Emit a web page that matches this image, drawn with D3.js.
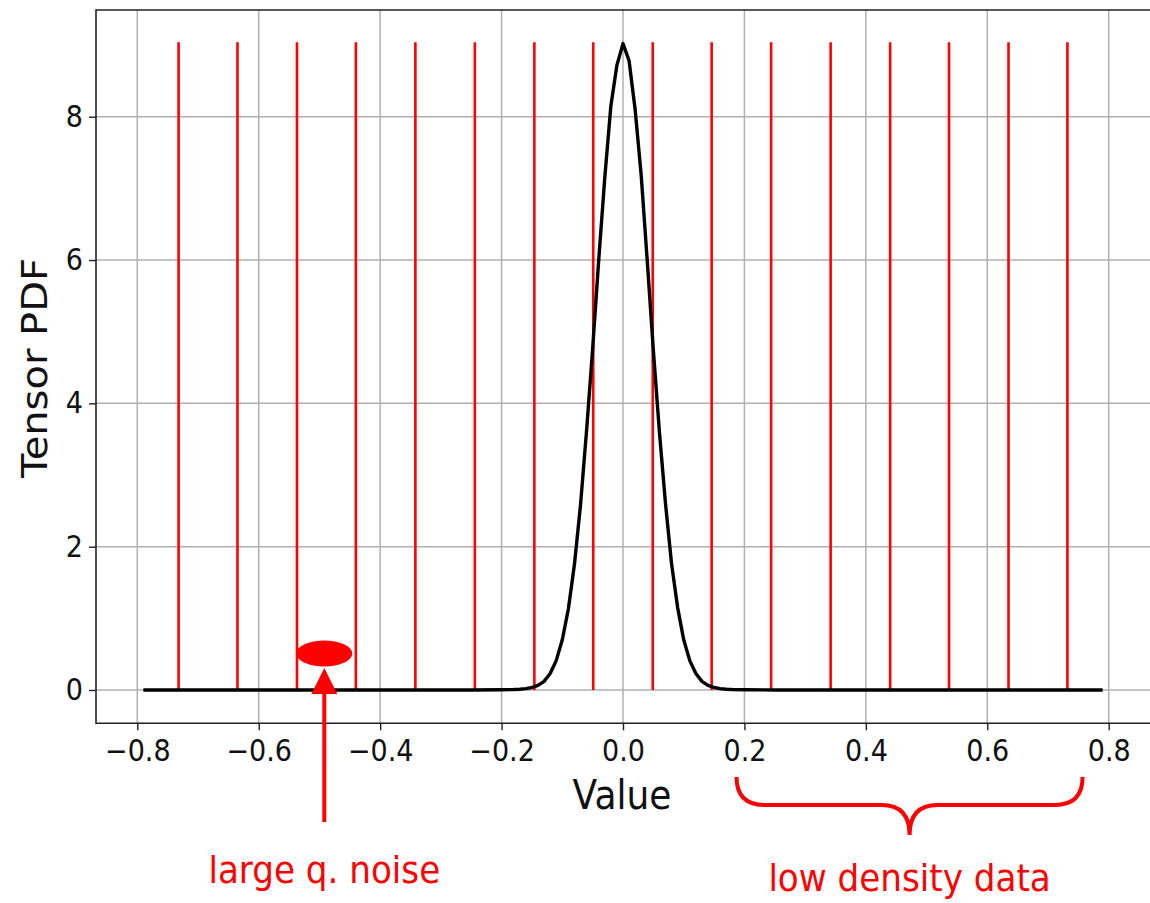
<!DOCTYPE html>
<html>
<head>
<meta charset="utf-8">
<script src="https://cdn.jsdelivr.net/npm/d3@7"></script>
<style>
  body { margin: 0; background: #fff; }
  svg { display: block; font-family: "DejaVu Sans", sans-serif; }
</style>
</head>
<body>
<script>
// ticks
var xTicks = [-0.8, -0.6, -0.4, -0.2, 0.0, 0.2, 0.4, 0.6, 0.8];
var xTickLabels = ["\u22120.8", "\u22120.6", "\u22120.4", "\u22120.2", "0.0", "0.2", "0.4", "0.6", "0.8"];
var yTicks = [0, 2, 4, 6, 8];
var yTickLabels = ["0", "2", "4", "6", "8"];

// quantization levels (red lines) and their height
var quantLevels = [-0.732, -0.635, -0.537, -0.440, -0.342, -0.244, -0.146, -0.049,
                    0.049, 0.146, 0.244, 0.342, 0.440, 0.537, 0.635, 0.732];
var levelTop = 9.04;

// tensor pdf
var pdfX = [-0.79, -0.40, -0.25, -0.20, -0.18, -0.17, -0.16, -0.15, -0.14, -0.13, -0.12, -0.11,
            -0.10, -0.09, -0.08, -0.07, -0.06, -0.05, -0.04, -0.03, -0.02, -0.01, 0.00,
             0.01, 0.02, 0.03, 0.04, 0.05, 0.06, 0.07, 0.08, 0.09, 0.10, 0.11, 0.12, 0.13,
             0.14, 0.15, 0.16, 0.17, 0.18, 0.20, 0.25, 0.40, 0.79];
var pdfY = [0, 0, 0.001, 0.003, 0.006, 0.01, 0.02, 0.035, 0.065, 0.12, 0.23, 0.41,
            0.70, 1.13, 1.75, 2.58, 3.62, 4.76, 6.00, 7.15, 8.15, 8.72, 9.02,
            8.78, 8.10, 7.18, 5.98, 4.74, 3.60, 2.60, 1.76, 1.15, 0.70, 0.41, 0.23, 0.12,
            0.065, 0.035, 0.02, 0.01, 0.006, 0.003, 0.001, 0, 0];

// annotations (data units)
var noiseAt = [-0.492, 0.51];
var braceFrom = 0.187, braceTo = 0.757;

var w = 1150, h = 903;
var frame = {left: 96, top: 10, right: 1152, bottom: 723.3};
var squeeze = 0.9;   // the figure is a bit narrow horizontally

var x = d3.scaleLinear().domain([-0.8, 0.8]).range([137.3, 1108.7]);
var y = d3.scaleLinear().domain([0, 8]).range([690, 116.7]);

var svg = d3.select("body").append("svg")
    .attr("width", w)
    .attr("height", h);

svg.append("rect").attr("width", w).attr("height", h).attr("fill", "#fff");

// grid
svg.append("g").selectAll("line")
    .data(xTicks).enter().append("line")
    .attr("x1", function(d) { return x(d); })
    .attr("x2", function(d) { return x(d); })
    .attr("y1", frame.top).attr("y2", frame.bottom)
    .attr("stroke", "#b0b0b0").attr("stroke-width", 1.5);
svg.append("g").selectAll("line")
    .data(yTicks).enter().append("line")
    .attr("y1", function(d) { return y(d); })
    .attr("y2", function(d) { return y(d); })
    .attr("x1", frame.left).attr("x2", frame.right)
    .attr("stroke", "#b0b0b0").attr("stroke-width", 1.5);

// red quantization lines
svg.append("g").selectAll("line")
    .data(quantLevels).enter().append("line")
    .attr("x1", function(d) { return x(d); })
    .attr("x2", function(d) { return x(d); })
    .attr("y1", y(0)).attr("y2", y(levelTop))
    .attr("stroke", "#ff0000").attr("stroke-width", 2.6);

// pdf curve
var pts = pdfX.map(function(d, i) { return [d, pdfY[i]]; });
var line = d3.line()
    .x(function(d) { return x(d[0]); })
    .y(function(d) { return y(d[1]); });
svg.append("path")
    .datum(pts)
    .attr("d", line)
    .attr("fill", "none")
    .attr("stroke", "#000")
    .attr("stroke-width", 3.4)
    .attr("stroke-linejoin", "round");

// spines
var spine = svg.append("g").attr("stroke", "#222").attr("stroke-width", 1.6);
spine.append("line").attr("x1", frame.left).attr("x2", frame.left).attr("y1", frame.top - 0.8).attr("y2", frame.bottom + 0.8);
spine.append("line").attr("x1", frame.left).attr("x2", frame.right).attr("y1", frame.top).attr("y2", frame.top);
spine.append("line").attr("x1", frame.left).attr("x2", frame.right).attr("y1", frame.bottom).attr("y2", frame.bottom);

// axes
var xAxis = d3.axisBottom(x)
    .tickValues(xTicks)
    .tickFormat(function(d, i) { return xTickLabels[i]; })
    .tickSize(7).tickSizeOuter(0).tickPadding(9.5);
var gx = svg.append("g")
    .attr("transform", "translate(0," + frame.bottom + ")")
    .call(xAxis);

var yAxis = d3.axisLeft(y)
    .tickValues(yTicks)
    .tickFormat(function(d, i) { return yTickLabels[i]; })
    .tickSize(7).tickSizeOuter(0).tickPadding(7.5);
var gy = svg.append("g")
    .attr("transform", "translate(" + frame.left + ",0)")
    .call(yAxis);

[gx, gy].forEach(function(g) {
  g.select(".domain").remove();
  g.selectAll(".tick line").attr("stroke", "#222").attr("stroke-width", 1.4);
  g.selectAll(".tick text")
    .attr("font-family", "DejaVu Sans")
    .attr("font-size", 30)
    .attr("fill", "#111")
    .attr("transform", "scale(" + squeeze + ",1)");
});

// axis labels
svg.append("text")
    .text("Value")
    .attr("text-anchor", "middle")
    .attr("font-size", 40)
    .attr("fill", "#111")
    .attr("transform", "translate(622,809) scale(" + squeeze + ",1)");

svg.append("text")
    .text("Tensor PDF")
    .attr("text-anchor", "middle")
    .attr("font-size", 40)
    .attr("fill", "#111")
    .attr("transform", "translate(47,368) rotate(-90) scale(1," + squeeze + ")");

// annotation: large quantization noise
var nx = x(noiseAt[0]);
svg.append("ellipse")
    .attr("cx", nx).attr("cy", y(noiseAt[1]))
    .attr("rx", 28).attr("ry", 13)
    .attr("fill", "#ff0000");
svg.append("line")
    .attr("x1", nx).attr("x2", nx)
    .attr("y1", 822).attr("y2", 690)
    .attr("stroke", "#ff0000").attr("stroke-width", 4);
svg.append("path")
    .attr("d", "M" + nx + ",668 L" + (nx - 13) + ",694 L" + (nx + 13) + ",694 Z")
    .attr("fill", "#ff0000");
svg.append("text")
    .text("large q. noise")
    .attr("text-anchor", "middle")
    .attr("font-size", 38)
    .attr("fill", "#ff0000")
    .attr("transform", "translate(" + nx + ",883) scale(" + squeeze + ",1)");

// annotation: curly brace under the right tail
var bx0 = x(braceFrom), bx1 = x(braceTo), bm = (bx0 + bx1) / 2;
var br = 28, bTop = 777, bMid = 805, bTip = 835;
var brace = "M" + bx0 + "," + bTop +
    " Q" + bx0 + "," + bMid + " " + (bx0 + br) + "," + bMid +
    " L" + (bm - br) + "," + bMid +
    " Q" + bm + "," + bMid + " " + bm + "," + bTip +
    " Q" + bm + "," + bMid + " " + (bm + br) + "," + bMid +
    " L" + (bx1 - br) + "," + bMid +
    " Q" + bx1 + "," + bMid + " " + bx1 + "," + bTop;
svg.append("path")
    .attr("d", brace)
    .attr("fill", "none")
    .attr("stroke", "#ff0000")
    .attr("stroke-width", 4);
svg.append("text")
    .text("low density data")
    .attr("text-anchor", "middle")
    .attr("font-size", 38)
    .attr("fill", "#ff0000")
    .attr("transform", "translate(" + bm + ",891) scale(" + squeeze + ",1)");
</script>
</body>
</html>
